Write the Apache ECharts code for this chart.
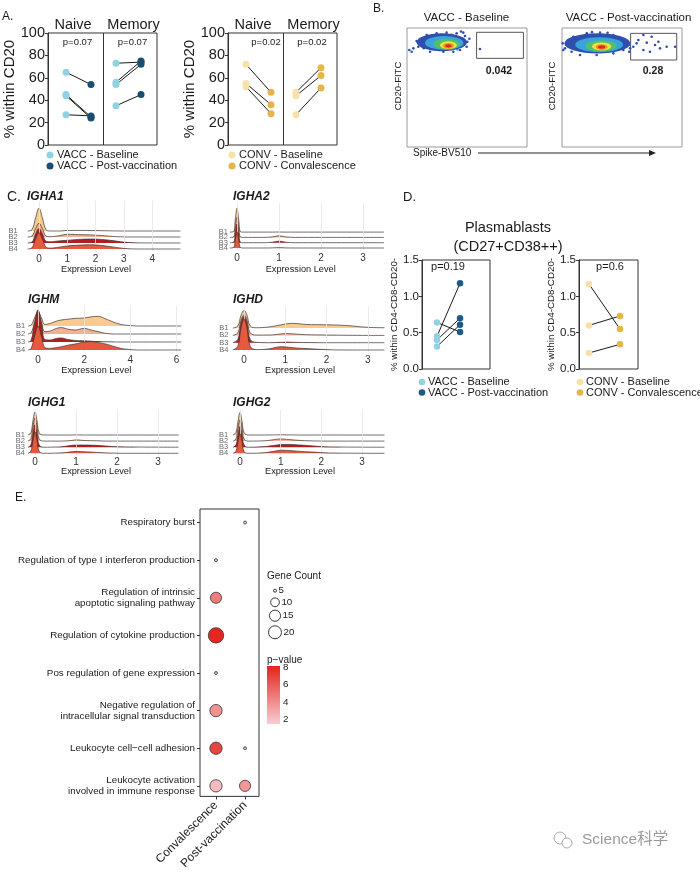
<!DOCTYPE html>
<html><head><meta charset="utf-8">
<script src="https://cdn.jsdelivr.net/npm/echarts@6/dist/echarts.min.js"></script>
<style>html,body{margin:0;padding:0;background:#fff}#c{width:700px;height:872px}</style>
</head><body><div id="c"></div><script>
// ================= DATA =================
// Panel A: % within CD20 (pairs: baseline -> follow-up)
const aVaccNaiveBase = [65, 45, 44, 27];
const aVaccNaivePost = [54, 25, 24, 26];
const aVaccMemBase   = [73, 56, 54, 35];
const aVaccMemPost   = [74, 75, 72, 45];
const aConvNaiveBase = [72, 55, 52];
const aConvNaivePost = [47, 36, 28];
const aConvMemBase   = [47, 44, 27];
const aConvMemPost   = [69, 62, 51];
const aFacets = ['Naive', 'Memory'];
const aPVacc = ['p=0.07', 'p=0.07'];
const aPConv = ['p=0.02', 'p=0.02'];
const vaccNames = ['VACC - Baseline', 'VACC - Post-vaccination'];
const convNames = ['CONV - Baseline', 'CONV - Convalescence'];

// Panel B: flow plots (axes 0-100). contours: [x, y, halfWidth, halfHeight, densityLevel]
const bBaseContours = [[29,88,21,7.5,0],[31,87.5,16,5.8,1],[33,86.5,11,4.6,2],[34.5,85.5,7,3.3,3],[34.5,85,4.6,2.4,4],[34.5,85,2.6,1.4,5]];
const bBaseEvents = [[1.9,81.5,0],[5.3,82.9,0],[3.9,80.1,0],[10.8,87.1,0],[9.4,84.3,0],[46.9,96.1,0],[48.3,93.3,0],[49.7,84.3,0],[50.3,88.5,0],[44.2,81.5,0],[60.8,82.4,0],[16.4,94.1,0],[24.7,95.5,0],[33,96.1,0],[41.4,95.5,0],[19.2,80.1,0],[30.3,80.1,0],[38.6,80.1,0],[13,90.5,0],[14,83,0],[52,91,0],[45,97,0],[8,89,0],[27,81.5,1],[42,82,1],[20,93,1],[37,94.5,1]];
const bPostContours = [[29.5,87,27.5,8.5,0],[31,86,20,6.2,1],[32.5,85,13,4.8,2],[33,84.5,8,3.4,3],[33,84,5,2.4,4],[33,84,3,1.4,5]];
const bPostEvents = [[67.8,94.1,0],[74.7,92.7,0],[63.6,89.9,0],[70.6,87.7,0],[80.3,88.5,0],[59.4,84.3,0],[67.8,81.5,0],[73.3,80.1,0],[81.7,82.9,0],[87.2,84.3,0],[94.2,84.3,0],[62.2,87.1,0],[56.7,82.9,0],[55.3,85.7,0],[51.1,81.5,0],[77.5,85.7,0],[0.6,87.1,0],[2.5,82.9,0],[1.1,81.5,0],[5.3,89.9,0],[9.4,92.7,0],[20.6,95.5,0],[31.7,96.1,0],[42.8,94.1,0],[48.3,91.3,0],[52.5,88.5,0],[15,77.3,0],[28.9,77.3,0],[42.8,78.7,0],[56,80,0],[8,80,0],[25,96.5,0],[38,96,0]];
const bBaseGate = [58, 74.5, 97, 96.4];
const bPostGate = [57.2, 73.1, 95.6, 95.5];
const bFreq = ['0.042', '0.28'];
const bTitles = ['VACC - Baseline', 'VACC - Post-vaccination'];

// Panel C: ridgeline densities (rows B1..B4)
const cSamples = ['B1', 'B2', 'B3', 'B4'];
const cX_IGHA1 = [-0.4,-0.25,-0.12,0,0.12,0.25,0.4,0.7,1.0,1.4,1.8,2.2,2.6,3.0,3.5,5.0];
const cD_IGHA1 = [
  [0,0.2,2.2,3.8,2.2,0.2,0,0,0.08,0.1,0.08,0.05,0.02,0,0,0],
  [0,0.15,1.4,2.3,1.4,0.15,0.05,0.2,0.45,0.4,0.35,0.25,0.1,0.02,0,0],
  [0,0.15,1.5,2.4,1.5,0.3,0.2,0.35,0.45,0.6,0.65,0.6,0.4,0.15,0.02,0],
  [0,0.2,1.7,2.7,1.7,0.3,0.15,0.3,0.5,0.65,0.7,0.6,0.35,0.1,0,0]];
const cX_IGHA2 = [-0.17,-0.08,-0.04,0,0.04,0.08,0.15,0.6,0.85,1.0,1.15,1.4,2,3.5];
const cD_IGHA2 = [
  [0,0.1,2.4,4.5,2.4,0.1,0,0,0,0.02,0,0,0,0],
  [0,0.1,2.0,3.8,2.0,0.1,0,0,0.1,0.3,0.1,0,0,0],
  [0,0.1,1.9,3.5,1.9,0.1,0,0,0.1,0.3,0.1,0,0,0],
  [0,0.1,1.6,3.0,1.6,0.1,0,0,0.02,0.05,0.02,0,0,0]];
const cX_IGHM = [-0.43,-0.3,-0.15,0,0.15,0.3,0.5,0.8,1.0,1.3,1.6,2.0,2.3,2.6,3.0,3.4,3.8,4.5,6.2];
const cD_IGHM = [
  [0,0.1,1.0,1.8,1.0,0.2,0.3,0.6,0.75,0.85,0.95,1.0,1.15,1.2,0.8,0.35,0.1,0,0],
  [0,0.15,1.4,2.5,1.4,0.3,0.35,0.7,0.8,0.6,0.5,0.7,0.5,0.3,0.05,0,0,0,0],
  [0,0.2,2.3,4.0,2.3,0.3,0.25,0.45,0.5,0.3,0.2,0.15,0.1,0.05,0.02,0,0,0,0],
  [0,0.2,1.7,3.0,1.7,0.3,0.2,0.3,0.4,0.6,0.75,1.0,1.05,0.95,0.7,0.35,0.1,0,0]];
const cX_IGHD = [-0.27,-0.15,-0.07,0,0.07,0.15,0.3,0.6,0.9,1.05,1.2,1.5,2.0,2.5,3.0,3.4];
const cD_IGHD = [
  [0,0.3,1.8,2.4,1.8,0.3,0.05,0.15,0.45,0.6,0.65,0.5,0.45,0.35,0.1,0.05],
  [0,0.35,2.1,2.8,2.1,0.35,0.05,0.05,0.2,0.25,0.2,0.1,0.05,0.02,0,0],
  [0,0.45,2.7,3.6,2.7,0.45,0.05,0,0.05,0.08,0.05,0.02,0,0,0,0],
  [0,0.5,3.1,4.2,3.1,0.5,0.05,0.15,0.45,0.4,0.3,0.2,0.05,0,0,0]];
const cX_IGHG1 = [-0.17,-0.1,-0.05,0,0.05,0.1,0.2,0.6,0.9,1.0,1.2,1.5,1.8,2.2,3.5];
const cD_IGHG1 = [
  [0,0.4,2.3,3.8,2.3,0.4,0,0,0,0.02,0,0,0,0,0],
  [0,0.4,2.3,3.8,2.3,0.4,0,0,0.1,0.2,0.1,0.05,0,0,0],
  [0,0.4,2.2,3.7,2.2,0.4,0,0.05,0.3,0.35,0.35,0.3,0.15,0.05,0],
  [0,0.35,2.1,3.5,2.1,0.35,0,0.05,0.25,0.3,0.25,0.15,0.05,0,0]];
const cX_IGHG2 = [-0.17,-0.1,-0.05,0,0.05,0.1,0.2,0.6,0.9,1.0,1.2,1.5,1.8,2.2,3.55];
const cD_IGHG2 = [
  [0,0.4,2.2,3.7,2.2,0.4,0,0,0.02,0.03,0.02,0,0,0,0],
  [0,0.35,2.1,3.5,2.1,0.35,0,0.05,0.3,0.35,0.25,0.1,0.03,0,0],
  [0,0.35,2.0,3.4,2.0,0.35,0,0.1,0.35,0.45,0.45,0.35,0.2,0.05,0],
  [0,0.3,1.9,3.2,1.9,0.3,0,0.1,0.4,0.5,0.45,0.3,0.2,0.05,0]];

// Panel D: plasmablasts % within CD4-CD8-CD20-
const dVaccBase = [0.45, 0.64, 0.40, 0.31];
const dVaccPost = [1.18, 0.51, 0.70, 0.61];
const dConvBase = [1.17, 0.60, 0.22];
const dConvPost = [0.55, 0.73, 0.34];
const dP = ['p=0.19', 'p=0.6'];

// Panel E: GO enrichment dots [groupIndex, termIndex, geneCount, p-value]
const eTerms = ['Respiratory burst','Regulation of type I interferon production','Regulation of intrinsic\napoptotic signaling pathway','Regulation of cytokine production','Pos regulation of gene expression','Negative regulation of\nintracellular signal transduction','Leukocyte cell\u2212cell adhesion','Leukocyte activation\ninvolved in immune response'];
const eGroups = ['Convalescence', 'Post-vaccination'];
const eDots = [[1,0,5,2.0],[0,1,5,2.0],[0,2,15,4.6],[0,3,28,8.0],[0,4,5,2.0],[0,5,18,3.8],[0,6,18,6.8],[1,6,5,2.0],[0,7,18,2.2],[1,7,15,3.6]];
const eSizeBreaks = [5, 10, 15, 20];
const ePBreaks = [8, 6, 4, 2];

// ================= BUILD =================
const FONT = '"Liberation Sans", Arial, Helvetica, sans-serif';
const grids = [], xAxes = [], yAxes = [], series = [], graphics = [], visualMaps = [];
function T(x, y, text, size, o) {
  o = o || {};
  graphics.push({type:'text', x:x, y:y, rotation:o.rot||0, silent:true, z:100,
    style:{text:text, fontSize:size, fontFamily:o.family||FONT, fontWeight:o.bold?'bold':'normal',
      fontStyle:o.italic?'italic':'normal', fill:o.color||'#1a1a1a', textAlign:o.align||'center', textVerticalAlign:'middle'}});
}
function dot(x, y, r, fill, stroke) {
  graphics.push({type:'circle', silent:true, z:100, shape:{cx:x, cy:y, r:r},
    style:{fill:fill, stroke:stroke||null, lineWidth:stroke?0.8:0}});
}
function addGrid(g) { grids.push(g); return grids.length - 1; }
const noZero = {show:false, onZero:false};

// ---------- Panel A ----------
function panelA(left, names, cols, nB, nP, mB, mP, ps, layout) {
  const gi = addGrid({left:left, top:33, width:109, height:112, show:true, borderColor:'#333', borderWidth:1});
  xAxes.push({gridIndex:gi, type:'value', min:0.28, max:4.64, show:false, axisLine:noZero});
  yAxes.push({gridIndex:gi, type:'value', min:0, max:100, interval:20,
    axisLine:{show:true, onZero:false, lineStyle:{color:'#333', width:1}}, axisTick:{show:true, length:3, lineStyle:{color:'#333'}},
    axisLabel:{fontSize:14.5, color:'#1a1a1a', margin:3, fontFamily:FONT}, splitLine:{show:false},
    name:'% within CD20', nameLocation:'middle', nameGap:26, nameTextStyle:{fontSize:15, color:'#1a1a1a', fontFamily:FONT}});
  const pairs = [];
  nB.forEach((v,i) => pairs.push([[1, v],[2, nP[i]]]));
  mB.forEach((v,i) => pairs.push([[3, v],[4, mP[i]]]));
  pairs.forEach((d,i) => series.push({type:'line', xAxisIndex:gi, yAxisIndex:gi, data:d, symbol:'none', silent:true, z:2,
    lineStyle:{color:'#1a1a1a', width:1},
    markLine: i===0 ? {silent:true, symbol:'none', label:{show:false}, lineStyle:{color:'#333', width:1, type:'solid'}, data:[{xAxis:2.5}]} : undefined}));
  series.push({type:'scatter', name:names[0], xAxisIndex:gi, yAxisIndex:gi, symbolSize:7, z:3, itemStyle:{color:cols[0], opacity:1},
    data: nB.map(v=>[1,v]).concat(mB.map(v=>[3,v]))});
  series.push({type:'scatter', name:names[1], xAxisIndex:gi, yAxisIndex:gi, symbolSize:7, z:3, itemStyle:{color:cols[1], opacity:1},
    data: nP.map(v=>[2,v]).concat(mP.map(v=>[4,v]))});
  T(layout.nx, 25, aFacets[0], 14.5); T(layout.mx, 25, aFacets[1], 14.5);
  T(layout.pnx, 42, ps[0], 9.5); T(layout.pmx, 42, ps[1], 9.5);
  dot(layout.lx, 155, 3.5, cols[0]); dot(layout.lx, 166, 3.5, cols[1]);
  T(layout.lx+7, 155, names[0], 11, {align:'left'}); T(layout.lx+7, 166, names[1], 11, {align:'left'});
}
const VB = '#8fd3e3', VP = '#1b4d73', CB = '#f7e1a9', CP = '#e6b44a';
T(2, 17, 'A.', 12, {align:'left'});
panelA(48, vaccNames, [VB, VP], aVaccNaiveBase, aVaccNaivePost, aVaccMemBase, aVaccMemPost, aPVacc, {nx:73, mx:133.5, pnx:77.5, pmx:132.5, lx:50});
panelA(228, convNames, [CB, CP], aConvNaiveBase, aConvNaivePost, aConvMemBase, aConvMemPost, aPConv, {nx:253, mx:313.5, pnx:266, pmx:312, lx:232});

// ---------- Panel B ----------
const flowColors = ['#2f4fae', '#3aa3dc', '#52c06a', '#ece33c', '#f28e2a', '#dc2a1e'];
function panelB(left, contours, events, gate) {
  const W = 120, H = 119;
  const gi = addGrid({left:left, top:28, width:W, height:H, show:true, borderColor:'#9a9a9a', borderWidth:1});
  xAxes.push({gridIndex:gi, type:'value', min:0, max:100, show:false, axisLine:noZero});
  yAxes.push({gridIndex:gi, type:'value', min:0, max:100, show:false, axisLine:noZero});
  series.push({type:'scatter', xAxisIndex:gi, yAxisIndex:gi, data:events, symbolSize:2.6, silent:true, z:2,
    itemStyle:{color:p=>flowColors[p.value[2]], opacity:1},
    markArea:{silent:true, itemStyle:{color:'rgba(0,0,0,0)', borderColor:'#555', borderWidth:1},
      data:[[{coord:[gate[0], gate[1]]},{coord:[gate[2], gate[3]]}]]}});
  series.push({type:'scatter', xAxisIndex:gi, yAxisIndex:gi, data:contours, silent:true, z:3,
    symbolSize: v => [v[2]*2*W/100, v[3]*2*H/100],
    itemStyle:{color:p=>flowColors[p.value[4]], opacity:1}});
}
T(373, 9, 'B.', 12, {align:'left'});
panelB(407, bBaseContours, bBaseEvents, bBaseGate);
panelB(562, bPostContours, bPostEvents, bPostGate);
T(466.5, 18, bTitles[0], 11.5); T(628.5, 18, bTitles[1], 11.5);
T(499, 71, bFreq[0], 10.5, {bold:true}); T(653, 71, bFreq[1], 10.5, {bold:true});
T(398.5, 86, 'CD20-FITC', 9.5, {rot:Math.PI/2}); T(552, 86, 'CD20-FITC', 9.5, {rot:Math.PI/2});
T(413, 153, 'Spike-BV510', 10, {align:'left'});
graphics.push({type:'line', silent:true, shape:{x1:478, y1:153, x2:650, y2:153}, style:{stroke:'#222', lineWidth:1}});
graphics.push({type:'polygon', silent:true, shape:{points:[[649,150],[656,153],[649,156]]}, style:{fill:'#222'}});

// ---------- Panel C ----------
const ridgeColors = ['#f8cc8e', '#f3b094', '#b01f1f', '#e65a3c'];
function ridge(gene, xs, dens, L) {
  const left = L.x0 + L.xmin*L.ppu, width = (L.xmax-L.xmin)*L.ppu;
  const top = L.b4 - L.ymax*L.sp, height = (L.ymax+0.3)*L.sp;
  const gi = addGrid({left:left, top:top, width:width, height:height});
  xAxes.push({gridIndex:gi, type:'value', min:L.xmin, max:L.xmax, axisLine:noZero, axisTick:{show:false}, splitLine:{show:false},
    axisLabel:{customValues:L.ticks, showMinLabel:true, showMaxLabel:true, fontSize:10, color:'#333', margin:L.lm, fontFamily:FONT}});
  yAxes.push({gridIndex:gi, type:'value', min:-0.3, max:L.ymax, axisLine:noZero, axisTick:{show:false}, splitLine:{show:false}, axisLabel:{show:false}});
  series.push({type:'line', xAxisIndex:gi, yAxisIndex:gi, data:[[L.xmin,-0.3]], symbol:'none', silent:true, z:1, lineStyle:{width:0},
    markLine:{silent:true, symbol:'none', label:{show:false}, lineStyle:{color:'#e6e6e6', width:0.8, type:'solid'}, data:L.ticks.map(t=>({xAxis:t}))}});
  dens.forEach((d,k) => {
    const off = 3 - k;
    series.push({type:'line', xAxisIndex:gi, yAxisIndex:gi, data:xs.map((x,j)=>[x, off + d[j]]), smooth:0.4, symbol:'none', silent:true, z:2+k,
      lineStyle:{color:'#3b3030', width:0.7}, areaStyle:{color:ridgeColors[k], opacity:1, origin:off}});
  });
  // sample labels B1..B4 at each ridge baseline
  series.push({type:'scatter', xAxisIndex:gi, yAxisIndex:gi, silent:true, z:10, symbolSize:0.01, itemStyle:{color:'rgba(0,0,0,0)'},
    data:cSamples.map((s,k)=>({value:[L.xmin, 3-k], name:s})),
    label:{show:true, position:'left', distance:L.ym, offset:[0,-2.5], formatter:p=>p.name, fontSize:7.5, color:'#444', fontFamily:FONT},
    labelLayout:{hideOverlap:false}});
  T(L.tx, L.ty, gene, 12, {bold:true, italic:true, align:'left'});
  T(L.ex, L.ey, 'Expression Level', 9.2);
}
T(7, 197, 'C.', 14, {align:'left'});
ridge('IGHA1', cX_IGHA1, cD_IGHA1, {x0:39, ppu:28.3, xmin:-0.4, xmax:5.0, b4:249, sp:6, ymax:8, ticks:[0,1,2,3,4], lm:3, ym:10, tx:27, ty:197, ex:96, ey:269});
ridge('IGHA2', cX_IGHA2, cD_IGHA2, {x0:237, ppu:42, xmin:-0.17, xmax:3.5, b4:248, sp:5.3, ymax:8.5, ticks:[0,1,2,3], lm:3.5, ym:2, tx:233, ty:197, ex:300.7, ey:269});
ridge('IGHM', cX_IGHM, cD_IGHM, {x0:38, ppu:23.1, xmin:-0.43, xmax:6.2, b4:350, sp:8, ymax:5.6, ticks:[0,2,4,6], lm:3, ym:3, tx:28, ty:300, ex:96.3, ey:370});
ridge('IGHD', cX_IGHD, cD_IGHD, {x0:244, ppu:41.3, xmin:-0.27, xmax:3.4, b4:350, sp:7.3, ymax:6, ticks:[0,1,2,3], lm:3, ym:4.5, tx:233, ty:300, ex:300, ey:370});
ridge('IGHG1', cX_IGHG1, cD_IGHG1, {x0:35, ppu:41, xmin:-0.17, xmax:3.5, b4:453.3, sp:6.1, ymax:7.2, ticks:[0,1,2,3], lm:2, ym:3, tx:28, ty:402.5, ex:96, ey:471.7});
ridge('IGHG2', cX_IGHG2, cD_IGHG2, {x0:240, ppu:40.7, xmin:-0.17, xmax:3.55, b4:453.3, sp:6.1, ymax:7.2, ticks:[0,1,2,3], lm:2, ym:5, tx:233, ty:402.5, ex:300, ey:471.7});

// ---------- Panel D ----------
function panelD(left, width, xmin, xmax, names, cols, base, post, p, px, nameGap, lx) {
  const gi = addGrid({left:left, top:260, width:width, height:109, show:true, borderColor:'#333', borderWidth:1});
  xAxes.push({gridIndex:gi, type:'value', min:xmin, max:xmax, show:false, axisLine:noZero});
  yAxes.push({gridIndex:gi, type:'value', min:0, max:1.5, interval:0.5,
    axisLine:{show:true, onZero:false, lineStyle:{color:'#333'}}, axisTick:{show:true, length:3, lineStyle:{color:'#333'}},
    axisLabel:{fontSize:11.5, color:'#1a1a1a', margin:3, fontFamily:FONT, formatter:v=>v.toFixed(1)}, splitLine:{show:false},
    name:'% within CD4-CD8-CD20-', nameLocation:'middle', nameGap:nameGap, nameTextStyle:{fontSize:9.8, color:'#1a1a1a', fontFamily:FONT}});
  base.forEach((v,i) => series.push({type:'line', xAxisIndex:gi, yAxisIndex:gi, data:[[1,v],[2,post[i]]], symbol:'none', silent:true, z:2, lineStyle:{color:'#1a1a1a', width:1}}));
  series.push({type:'scatter', name:names[0], xAxisIndex:gi, yAxisIndex:gi, symbolSize:6.5, z:3, itemStyle:{color:cols[0], opacity:1}, data:base.map(v=>[1,v])});
  series.push({type:'scatter', name:names[1], xAxisIndex:gi, yAxisIndex:gi, symbolSize:6.5, z:3, itemStyle:{color:cols[1], opacity:1}, data:post.map(v=>[2,v])});
  T(px, 267, p, 11);
  dot(lx, 382, 3.3, cols[0]); dot(lx, 392.5, 3.3, cols[1]);
  T(lx+6, 382, names[0], 11, {align:'left'}); T(lx+6, 392.5, names[1], 11, {align:'left'});
}
T(403, 197, 'D.', 13, {align:'left'});
T(508, 228, 'Plasmablasts', 14.5); T(508, 247, '(CD27+CD38++)', 14.5);
panelD(422, 68, 0.348, 3.3, vaccNames, [VB, '#1d5a85'], dVaccBase, dVaccPost, dP[0], 448, 19, 422);
panelD(579, 59, 0.68, 2.58, convNames, [CB, CP], dConvBase, dConvPost, dP[1], 610, 21, 580);

// ---------- Panel E ----------
const eSize = c => 3 + 10*Math.sqrt(Math.max(0, c-5)/15);
const eGi = addGrid({left:200, top:509, width:59, height:297, show:true, borderColor:'#333', borderWidth:1});
xAxes.push({gridIndex:eGi, type:'value', min:-0.55, max:1.48, axisLine:noZero, splitLine:{show:false},
  axisTick:{show:true, customValues:[0,1], length:3, lineStyle:{color:'#333'}},
  axisLabel:{customValues:[0,1], showMinLabel:true, showMaxLabel:true, formatter:v=>eGroups[Math.round(v)], rotate:45, fontSize:12, color:'#1a1a1a', margin:7, fontFamily:FONT}});
yAxes.push({gridIndex:eGi, type:'value', inverse:true, min:-0.36, max:7.28, axisLine:noZero, splitLine:{show:false},
  axisTick:{show:true, customValues:[0,1,2,3,4,5,6,7], length:3, lineStyle:{color:'#333'}},
  axisLabel:{customValues:[0,1,2,3,4,5,6,7], showMinLabel:true, showMaxLabel:true, formatter:v=>eTerms[Math.round(v)], fontSize:9.8, lineHeight:11.5, color:'#1a1a1a', margin:5, align:'right', fontFamily:FONT}});
const eSeriesIndex = series.length;
series.push({type:'scatter', xAxisIndex:eGi, yAxisIndex:eGi, data:eDots.map(d=>[d[0], d[1], d[2], d[3]]), z:3,
  symbolSize: v => eSize(v[2]), itemStyle:{borderColor:'#333', borderWidth:0.8, opacity:1}});
visualMaps.push({type:'continuous', show:false, seriesIndex:eSeriesIndex, dimension:3, min:1.5, max:8.1, inRange:{color:['#f7cdd4', '#e3241c']}});
T(15, 498, 'E.', 12, {align:'left'});
T(267, 576, 'Gene Count', 10, {align:'left'});
const eLegY = [590.7, 602.3, 615.7, 632.3];
eSizeBreaks.forEach((c,i) => {
  graphics.push({type:'circle', silent:true, shape:{cx:275, cy:eLegY[i], r:eSize(c)/2}, style:{fill:'#fff', stroke:'#222', lineWidth:0.9}});
  T(275 + eSize(c)/2 + 2, eLegY[i], String(c), 9.8, {align:'left'});
});
T(267, 660, 'p\u2212value', 10, {align:'left'});
const cbTop = 666, cbH = 58, cbMin = 1.5, cbMax = 8.1;
graphics.push({type:'rect', silent:true, shape:{x:267, y:cbTop, width:13, height:cbH},
  style:{fill:new echarts.graphic.LinearGradient(0,0,0,1,[{offset:0,color:'#e3241c'},{offset:1,color:'#f7cdd4'}])}});
ePBreaks.forEach(v => T(283, cbTop + (cbMax - v)/(cbMax - cbMin)*cbH, String(v), 9.8, {align:'left'}));

// watermark
graphics.push({type:'circle', silent:true, shape:{cx:560, cy:838, r:6}, style:{fill:'none', stroke:'#aaa', lineWidth:1}});
graphics.push({type:'circle', silent:true, shape:{cx:567, cy:843, r:5}, style:{fill:'#fff', stroke:'#aaa', lineWidth:1}});
T(582, 840, 'Science\u79d1\u5b66', 15.5, {align:'left', color:'#9a9a9a', family:'"Liberation Sans", "Noto Sans CJK SC", sans-serif'});

const chart = echarts.init(document.getElementById('c'), null, {renderer:'canvas'});
chart.setOption({
  animation:false, backgroundColor:'#ffffff',
  textStyle:{fontFamily:FONT},
  grid:grids, xAxis:xAxes, yAxis:yAxes, series:series, visualMap:visualMaps,
  graphic:{elements:graphics}
});
</script></body></html>
